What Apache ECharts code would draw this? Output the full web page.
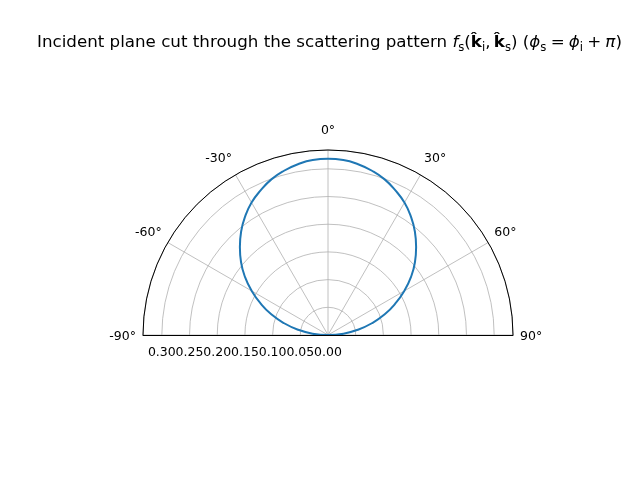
<!DOCTYPE html>
<html>
<head>
<meta charset="utf-8">
<script src="https://cdn.jsdelivr.net/npm/echarts@6/dist/echarts.min.js"></script>
<style>
  html, body { margin: 0; padding: 0; background: #fff; }
  #chart { width: 640px; height: 480px; }
</style>
</head>
<body>
<div id="chart"></div>
<script>
// scattering angle (deg) and pattern value
var angles = [-90, -85, -80, -75, -70, -65, -60, -55, -50, -45, -40, -35, -30, -25, -20, -15, -10, -5,
              0, 5, 10, 15, 20, 25, 30, 35, 40, 45, 50, 55, 60, 65, 70, 75, 80, 85, 90];
var values = [0.000, 0.028, 0.055, 0.082, 0.109, 0.134, 0.159, 0.183, 0.205, 0.225, 0.244, 0.261, 0.276, 0.288, 0.299, 0.307, 0.313, 0.317,
              0.318, 0.317, 0.313, 0.307, 0.299, 0.288, 0.276, 0.261, 0.244, 0.225, 0.205, 0.183, 0.159, 0.134, 0.109, 0.082, 0.055, 0.028, 0.000];
var rMax = 0.334;
var rStep = 0.05;
var angleStep = 30;

var font = 'DejaVu Sans';
var grey = '#b0b0b0';
var center = [328, 335];
var radius = 185;
var tickSize = 12.5;

var chart = echarts.init(document.getElementById('chart'), null, { renderer: 'canvas' });

var pts = [];
for (var i = 0; i < angles.length; i++) {
    pts.push([values[i], angles[i]]);
}

function tickStyle(pad) {
    return { fontFamily: font, fontSize: tickSize, color: '#000', padding: pad };
}

chart.setOption({
    animation: false,
    backgroundColor: '#fff',
    title: {
        text: '{n|Incident plane cut through the scattering pattern }{it|f}{sub|s}{n|(}{b|k̂}{sub|i}{n|,\u2009}{b|k̂}{sub|s}{n|) (}{it|ϕ}{sub|s}{n|\u2005=\u2005}{it|ϕ}{sub|i}{n|\u2005+\u2005}{it|π}{n|)}',
        left: 32,
        top: 27,
        textStyle: {
            fontFamily: font,
            fontWeight: 'normal',
            fontSize: 16.7,
            color: '#000',
            rich: {
                n: { fontFamily: font, fontWeight: 'normal', fontSize: 16.7, color: '#000', lineHeight: 22 },
                it: { fontFamily: font, fontWeight: 'normal', fontStyle: 'italic', fontSize: 16.7, color: '#000', lineHeight: 22 },
                b: { fontFamily: font, fontWeight: 'bold', fontSize: 16.7, color: '#000', lineHeight: 22 },
                sub: { fontFamily: font, fontWeight: 'normal', fontSize: 11.7, color: '#000', lineHeight: 12, verticalAlign: 'bottom' }
            }
        }
    },
    polar: [
        { center: center, radius: radius },
        { center: center, radius: radius }
    ],
    angleAxis: [{
        polarIndex: 0,
        type: 'value',
        min: -90,
        max: 90,
        interval: angleStep,
        startAngle: 180,
        endAngle: 0,
        clockwise: true,
        axisLine: { lineStyle: { color: '#000', width: 1 } },
        axisTick: { show: false },
        axisLabel: {
            margin: 7,
            align: 'center',
            verticalAlign: 'middle',
            fontFamily: font,
            fontSize: tickSize,
            color: '#000',
            formatter: function (v) {
                if (v === 0) return '{top|0°}';
                if (v === -30) return '{l30|\u2002\u2002\u2002-30°}';
                if (v === 30) return '{r30|30°\u2002\u2002}';
                if (v === -90) return '{lft|-90°}';
                if (v === 90) return '{rgt|90°}';
                return '{mid|' + v + '°}';
            },
            rich: {
                top: tickStyle([0, 0, 6, 0]),
                l30: tickStyle([0, 0, 3, 0]),
                r30: tickStyle([0, 0, 3, 0]),
                lft: tickStyle([4, 0, 0, 4]),
                rgt: tickStyle([4, 4, 0, 0]),
                mid: tickStyle([0, 0, 0, 0])
            }
        },
        splitLine: { show: true, lineStyle: { color: grey, width: 0.8 } }
    }, {
        // second frame: only used for the right-hand straight edge
        polarIndex: 1,
        type: 'value',
        min: 0,
        max: 180,
        startAngle: 0,
        endAngle: 180,
        clockwise: false,
        axisLine: { show: false },
        axisTick: { show: false },
        axisLabel: { show: false },
        splitLine: { show: false }
    }],
    radiusAxis: [{
        polarIndex: 0,
        type: 'value',
        min: 0,
        max: rMax,
        interval: rStep,
        axisLine: { show: true, lineStyle: { color: '#000', width: 1 } },
        axisTick: { show: false },
        axisLabel: {
            interval: 0,
            showMinLabel: true,
            showMaxLabel: false,
            hideOverlap: false,
            width: 24,
            overflow: 'none',
            margin: 11.5,
            fontFamily: font,
            fontSize: tickSize,
            color: '#000',
            formatter: function (v) { return v.toFixed(2); }
        },
        splitLine: { show: true, lineStyle: { color: grey, width: 0.8 } }
    }, {
        polarIndex: 1,
        type: 'value',
        min: 0,
        max: rMax,
        z: 3,
        axisLine: { show: true, lineStyle: { color: '#000', width: 1 } },
        axisTick: { show: false },
        axisLabel: { show: false },
        splitLine: { show: false }
    }],
    series: [{
        type: 'line',
        coordinateSystem: 'polar',
        polarIndex: 0,
        data: pts,
        showSymbol: false,
        smooth: 0.5,
        lineStyle: { color: '#1f77b4', width: 2 },
        z: 5
    }]
});
</script>
</body>
</html>
